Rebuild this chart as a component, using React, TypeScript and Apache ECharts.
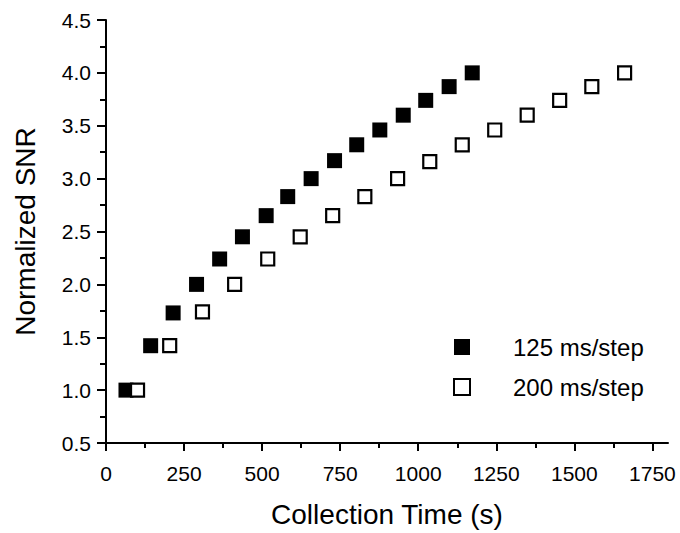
import React, { useEffect, useRef } from "react";
import * as echarts from "echarts";

const seriesNames = ["125 ms/step", "200 ms/step"];

const time125 = [64, 143, 215, 290, 364, 437, 513, 582, 657, 732, 803, 877, 952, 1024, 1099, 1173];
const snr125 = [1.0, 1.42, 1.73, 2.0, 2.24, 2.45, 2.65, 2.83, 3.0, 3.17, 3.32, 3.46, 3.6, 3.74, 3.87, 4.0];

const time200 = [101, 204, 309, 412, 518, 622, 726, 829, 934, 1037, 1141, 1245, 1349, 1453, 1556, 1661];
const snr200 = [1.0, 1.42, 1.74, 2.0, 2.24, 2.45, 2.65, 2.83, 3.0, 3.16, 3.32, 3.46, 3.6, 3.74, 3.87, 4.0];

const xMajorTicks = [0, 250, 500, 750, 1000, 1250, 1500, 1750];
const xMinorTicks = [125, 375, 625, 875, 1125, 1375, 1625];

const FONT = "'Liberation Sans', Arial, Helvetica, sans-serif";

export default function App() {
  const ref = useRef<HTMLDivElement>(null);

  useEffect(() => {
    if (!ref.current) return;
    const chart = echarts.init(ref.current, null, { renderer: "svg" });
    const pair = (xs: number[], ys: number[]) => xs.map((x, i) => [x, ys[i]]);
    const axisLine = { show: true, lineStyle: { color: "#000", width: 2 } };

    chart.setOption({
      animation: false,
      backgroundColor: "#fff",
      grid: { left: 106, top: 20, right: 12, bottom: 82, containLabel: false },
      legend: {
        orient: "vertical",
        left: 453,
        top: 335,
        padding: 0,
        itemWidth: 16,
        itemHeight: 16,
        itemGap: 16,
        data: seriesNames,
        textStyle: {
          fontFamily: FONT,
          fontSize: 24,
          lineHeight: 24,
          color: "#000",
          padding: [0, 0, 0, 38],
        },
      },
      xAxis: [
        {
          type: "value",
          min: 0,
          max: 1800,
          interval: 250,
          position: "bottom",
          name: "Collection Time (s)",
          nameLocation: "middle",
          nameGap: 57,
          nameTextStyle: { fontFamily: FONT, fontSize: 28, color: "#000" },
          axisLine,
          axisTick: { show: true, length: 8, lineStyle: { color: "#000", width: 2 }, customValues: xMajorTicks },
          axisLabel: {
            fontFamily: FONT,
            fontSize: 21,
            color: "#000",
            margin: 20,
            customValues: xMajorTicks,
            formatter: (v: number) => String(v),
          },
          splitLine: { show: false },
        },
        {
          type: "value",
          min: 0,
          max: 1800,
          interval: 250,
          position: "bottom",
          axisLine: { show: false },
          axisTick: { show: true, length: 5, lineStyle: { color: "#000", width: 2 }, customValues: xMinorTicks },
          axisLabel: { show: false },
          splitLine: { show: false },
        },
      ],
      yAxis: {
        type: "value",
        min: 0.5,
        max: 4.5,
        interval: 0.5,
        name: "Normalized SNR",
        nameLocation: "middle",
        nameGap: 67,
        nameTextStyle: { fontFamily: FONT, fontSize: 28, color: "#000" },
        axisLine,
        axisTick: { show: true, length: 9, lineStyle: { color: "#000", width: 2 } },
        minorTick: { show: true, splitNumber: 2, length: 6, lineStyle: { color: "#000", width: 2 } },
        axisLabel: {
          fontFamily: FONT,
          fontSize: 21,
          color: "#000",
          margin: 15,
          formatter: (v: number) => v.toFixed(1),
        },
        splitLine: { show: false },
      },
      series: [
        {
          name: seriesNames[0],
          type: "scatter",
          xAxisIndex: 0,
          symbol: "rect",
          symbolSize: 15,
          itemStyle: { color: "#000", borderColor: "#000", borderWidth: 0, opacity: 1 },
          data: pair(time125, snr125),
        },
        {
          name: seriesNames[1],
          type: "scatter",
          xAxisIndex: 0,
          symbol: "rect",
          symbolSize: 13,
          itemStyle: { color: "#fff", borderColor: "#000", borderWidth: 2.2, opacity: 1 },
          data: pair(time200, snr200),
        },
      ],
    });
    return () => chart.dispose();
  }, []);

  return (
    <div
      ref={ref}
      style={{ position: "fixed", left: 0, top: 0, width: 680, height: 533, background: "#fff" }}
    />
  );
}
